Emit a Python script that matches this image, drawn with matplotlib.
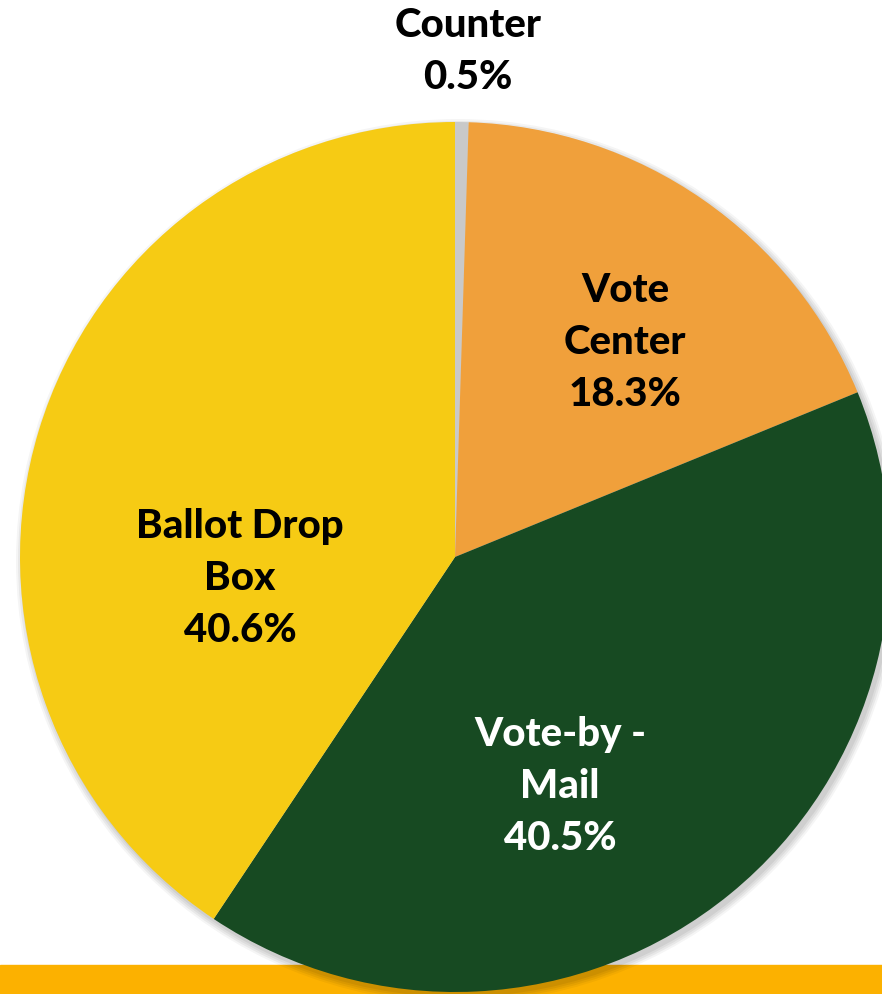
import matplotlib

matplotlib.use("Agg")
import matplotlib.pyplot as plt
from matplotlib.patches import Circle, Rectangle

categories = ["Counter", "Vote Center", "Vote-by-Mail", "Ballot Drop Box"]
shares = [0.5, 18.3, 40.5, 40.6]
label_lines = ["Counter", "Vote\nCenter", "Vote-by -\nMail", "Ballot Drop\nBox"]
colors = ["#C9C9C9", "#F0A03B", "#174A22", "#F6CB14"]
text_colors = ["black", "black", "white", "black"]

W, H = 882, 995
fig = plt.figure(figsize=(W / 100, H / 100), dpi=100)
ax = fig.add_axes([0, 0, 1, 1])


def py(y):
    # pixel row (from top) -> data y
    return H - y


cx, cy, R = 455, py(558), 435

# orange footer band
ax.add_patch(Rectangle((0, 0), W, H - 966, color="#FCB100", zorder=1))

# soft shadow
for i, a in enumerate([0.04, 0.05, 0.05, 0.06]):
    ax.add_patch(Circle((cx + 3, cy - 4), R + 7 - i * 2, color="black", alpha=a, lw=0, zorder=2))

ax.pie(
    shares,
    colors=colors,
    startangle=90,
    counterclock=False,
    center=(cx, cy),
    radius=R,
    wedgeprops=dict(linewidth=0, zorder=3),
    frame=True,
)
ax.set_xlim(0, W)
ax.set_ylim(0, H)
ax.set_aspect("equal")
ax.axis("off")

font = dict(fontsize=29, fontweight=900, family="Lato", ha="center", va="center", zorder=5)
text_pos = [(468, 52), (625, 343), (560, 787), (240, 579)]
for name, val, tc, (x, y) in zip(label_lines, shares, text_colors, text_pos):
    ax.text(x, py(y), f"{name}\n{val:.1f}%", color=tc, linespacing=1.5, **font)

fig.savefig("out.png", dpi=100)
